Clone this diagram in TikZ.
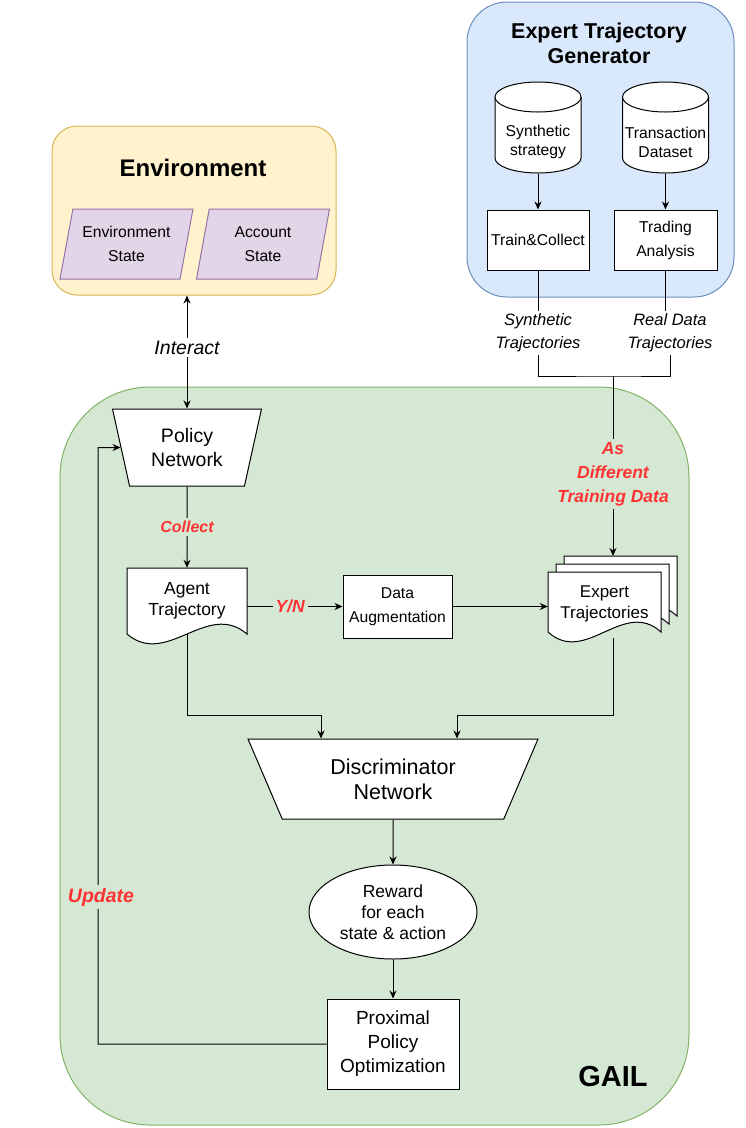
\documentclass[tikz,border=0pt]{standalone}
\usepackage{fontspec}
\setmainfont{Liberation Sans}
\usetikzlibrary{shapes.geometric,arrows.meta}

\definecolor{envfill}{HTML}{FFF2CC}
\definecolor{envline}{HTML}{D6B656}
\definecolor{expfill}{HTML}{DAE8FC}
\definecolor{expline}{HTML}{6C8EBF}
\definecolor{gailfill}{HTML}{D5E8D4}
\definecolor{gailline}{HTML}{82B366}
\definecolor{statefill}{HTML}{E1D5E7}
\definecolor{stateline}{HTML}{9673A6}
\definecolor{redtxt}{HTML}{FF3333}

\tikzset{
  txt/.style 2 args={font=\fontsize{#1}{#2}\selectfont},
  btxt/.style 2 args={font=\fontsize{#1}{#2}\selectfont\bfseries},
  itxt/.style 2 args={font=\fontsize{#1}{#2}\selectfont\itshape},
  rtxt/.style 2 args={font=\fontsize{#1}{#2}\selectfont\bfseries\itshape,
    text=redtxt},
  groupbox/.style={draw, line width=1pt, inner sep=0pt},
  box/.style={draw, fill=white, line width=1pt, inner sep=0pt, align=center},
  plain/.style={inner sep=0pt, align=center},
  lbl/.style={inner sep=3pt, align=center},
  trap/.style={trapezium, shape border rotate=180, trapezium stretches body,
    draw, fill=white, line width=1pt, inner sep=0pt, align=center},
  state/.style={trapezium, trapezium left angle=70, trapezium right angle=110,
    trapezium stretches body, draw=stateline, fill=statefill, line width=1pt,
    inner sep=0pt, align=center, minimum width=133pt, minimum height=70pt},
  docline/.style={draw, fill=white, line width=1pt},
  dbline/.style={draw, fill=white, line width=1pt},
  line/.style={line width=1pt},
  arr/.style={line width=1pt, -{Stealth[length=8pt,width=7pt]}},
  dblarr/.style={line width=1pt,
    {Stealth[length=8pt,width=7pt]}-{Stealth[length=8pt,width=7pt]}},
}

% database cylinder: centre x, top y
\newcommand{\database}[2]{
  \draw[dbline] (#1-43,#2+15) -- (#1-43,#2+76)
    arc[start angle=180,end angle=360,x radius=43pt,y radius=15pt]
    -- (#1+43,#2+15)
    arc[start angle=0,end angle=180,x radius=43pt,y radius=15pt] -- cycle;
  \draw[dbline] (#1-43,#2+15)
    arc[start angle=180,end angle=360,x radius=43pt,y radius=15pt];
}

% document with wavy bottom: left x, top y, width, height
\newcommand{\docshape}[4]{
  \draw[docline] (#1,#2) -- (#1+#3,#2) -- (#1+#3,#2+#4)
    .. controls (#1+#3*2/3,#2+#4-34) and (#1+#3/3,#2+#4+34) .. (#1,#2+#4)
    -- cycle;
}

\begin{document}
\begin{tikzpicture}[x=1pt,y=-1pt]
  \useasboundingbox (0,0) rectangle (746,1128);

  % groups
  \node[groupbox, fill=envfill, draw=envline, rounded corners=25pt,
    minimum width=284pt, minimum height=169pt] (env) at (194,210.5) {};
  \node[groupbox, fill=expfill, draw=expline, rounded corners=40pt,
    minimum width=267pt, minimum height=295pt] (expgen) at (600.5,149.5) {};
  \node[groupbox, fill=gailfill, draw=gailline, rounded corners=90pt,
    minimum width=629pt, minimum height=738pt] (gail) at (374.5,756) {};

  \node[plain, btxt={24}{29}] (envtitle) at (193,168) {Environment};
  \node[plain, btxt={21.5}{25}] (exptitle) at (599,43.5)
    {Expert Trajectory\\Generator};
  \node[plain, btxt={29}{34}] (gailtitle) at (613,1077) {GAIL};

  % environment
  \node[state, txt={15.7}{24}] (envstate) at (126.5,244)
    {Environment\\State};
  \node[state, txt={15.7}{24}] (account) at (263,244) {Account\\State};

  % expert trajectory generator
  \database{538}{82}
  \database{665.5}{82}
  \node[plain, txt={15.7}{19}, minimum width=86pt, minimum height=64pt]
    (syn) at (538,142) {Synthetic\\strategy};
  \node[plain, txt={15.7}{19}, minimum width=86pt, minimum height=64pt]
    (trans) at (665.5,142) {Transaction\\Dataset};
  \node[box, txt={15.7}{24}, minimum width=102pt, minimum height=60pt]
    (train) at (538,240) {Train\&Collect};
  \node[box, txt={15.7}{24}, minimum width=103pt, minimum height=60pt]
    (trading) at (665.5,240) {Trading\\Analysis};
  \node[lbl, itxt={16.5}{23}] (synlab) at (538,333)
    {Synthetic\\Trajectories};
  \node[lbl, itxt={16.5}{23}] (reallab) at (670,333)
    {Real Data\\Trajectories};

  % GAIL
  \node[trap, txt={19.5}{24}, trapezium left angle=66,
    trapezium right angle=66, minimum width=149pt, minimum height=77pt]
    (policy) at (187,447.5) {Policy\\Network};
  \docshape{127}{568}{120}{66}
  \node[plain, txt={17.5}{21}, minimum width=120pt, minimum height=66pt]
    (agent) at (187,601) {Agent\\Trajectory};
  \node[box, txt={15.7}{24}, minimum width=109pt, minimum height=63pt]
    (dataaug) at (397.5,606.5) {Data\\Augmentation};
  \docshape{564}{556}{113}{60}
  \docshape{556}{564}{113}{60}
  \docshape{548}{572}{113}{60}
  \node[plain, txt={17}{21}, minimum width=113pt, minimum height=60pt]
    (experts) at (604.5,604) {Expert\\Trajectories};
  \node[lbl, rtxt={17.5}{24}] (asdata) at (613,474)
    {As\\Different\\Training Data};
  \node[trap, txt={21.5}{25}, trapezium left angle=50,
    trapezium right angle=50, minimum width=290pt, minimum height=80pt]
    (disc) at (393,779) {Discriminator\\Network};
  \node[ellipse, draw, fill=white, line width=1pt, inner sep=0pt,
    align=center, txt={17.5}{21}, minimum width=168pt, minimum height=94pt]
    (reward) at (393,912) {Reward\\for each\\state \& action};
  \node[box, txt={19}{24}, minimum width=132pt, minimum height=90pt]
    (ppo) at (393,1044) {Proximal\\Policy\\Optimization};

  % connectors
  \coordinate (join) at (613,376);
  \coordinate (exptop) at (613,556);
  \coordinate (expbot) at (613,638);
  \coordinate (dl) at (321,715);
  \coordinate (dr) at (457,715);
  \coordinate (loopc) at (98,447.5);

  \draw[arr] (syn) -- (train);
  \draw[arr] (trans) -- (trading);
  \draw[line] (train) -- (synlab);
  \draw[line] (trading.south) -- (trading.south |- reallab.north);
  \draw[line] (synlab.south) |- (join) -| (reallab.south);
  \draw[line] (join) -- (asdata);
  \draw[arr] (asdata) -- (exptop);

  \draw[dblarr] (policy.north |- env.south) -- node[lbl, pos=0.46,
    fill=white, itxt={19.5}{23}] {Interact} (policy.north);
  \draw[arr] (policy) -- node[lbl, fill=gailfill, rtxt={16}{19}]
    {Collect} (agent);
  \draw[arr] (agent.east |- dataaug) -- node[lbl, pos=0.45, fill=gailfill,
    rtxt={17.5}{21}] {Y/N} (dataaug);
  \draw[arr] (dataaug) -- (dataaug -| experts.west);

  \draw[arr] (agent.south) |- (dl) -- (dl |- disc.north);
  \draw[arr] (expbot) |- (dr) -- (dr |- disc.north);
  \draw[arr] (disc) -- (reward);
  \draw[arr] (reward) -- (ppo);

  \draw[arr] (ppo) -| (loopc) -- (policy);
  \node[lbl, fill=gailfill, rtxt={19.5}{23}] (update) at (101,897)
    {Update};
\end{tikzpicture}
\end{document}
